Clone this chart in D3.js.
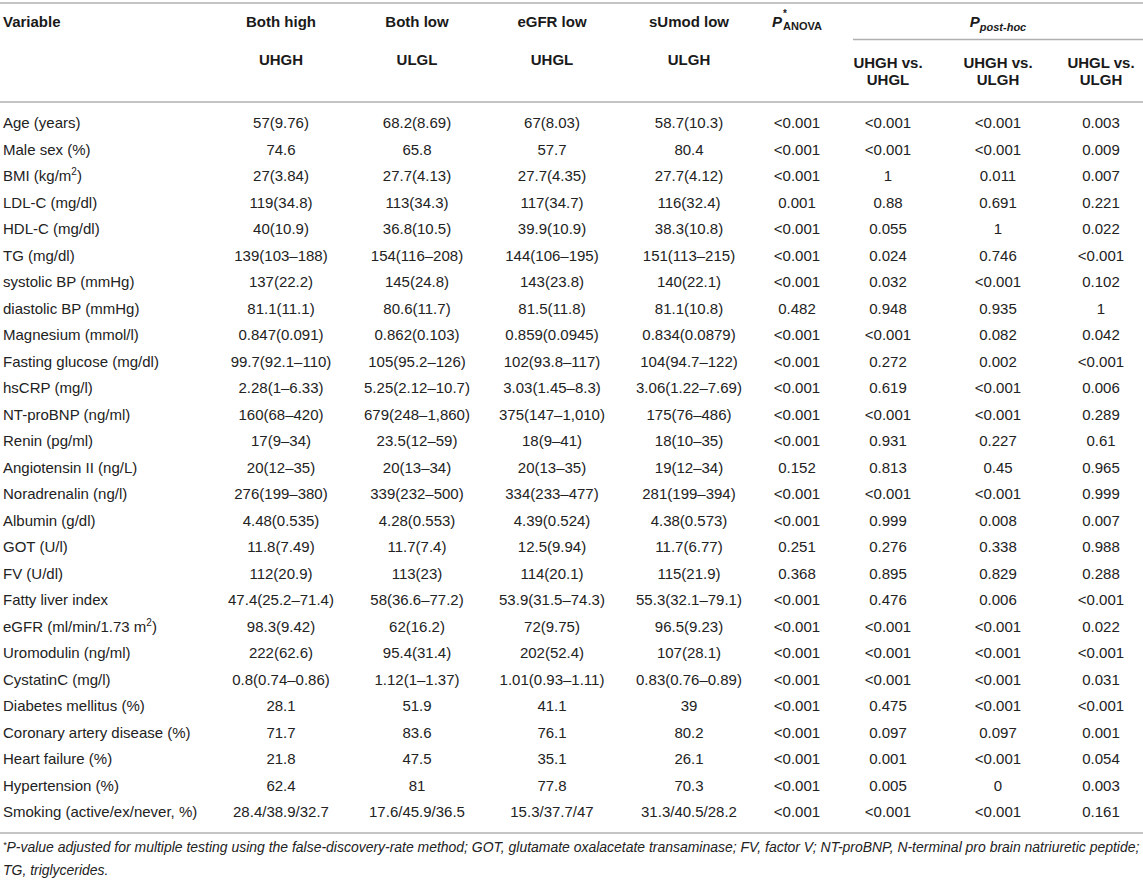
<!DOCTYPE html>
<html>
<head>
<meta charset="utf-8">
<script src="https://cdn.jsdelivr.net/npm/d3@7"></script>
<style>
  html, body { margin: 0; padding: 0; background: #fff; }
  svg { display: block; font-family: "Liberation Sans", Arial, Helvetica, sans-serif; }
</style>
</head>
<body>
<svg id="chart" width="1143" height="880"></svg>
<script>
// ---- data ----
const variables = [
  "Age (years)", "Male sex (%)", "BMI (kg/m^2)", "LDL-C (mg/dl)", "HDL-C (mg/dl)", "TG (mg/dl)",
  "systolic BP (mmHg)", "diastolic BP (mmHg)", "Magnesium (mmol/l)", "Fasting glucose (mg/dl)",
  "hsCRP (mg/l)", "NT-proBNP (ng/ml)", "Renin (pg/ml)", "Angiotensin II (ng/L)", "Noradrenalin (ng/l)",
  "Albumin (g/dl)", "GOT (U/l)", "FV (U/dl)", "Fatty liver index", "eGFR (ml/min/1.73 m^2)",
  "Uromodulin (ng/ml)", "CystatinC (mg/l)", "Diabetes mellitus (%)", "Coronary artery disease (%)",
  "Heart failure (%)", "Hypertension (%)", "Smoking (active/ex/never, %)"
];
const uhgh = ["57(9.76)", "74.6", "27(3.84)", "119(34.8)", "40(10.9)", "139(103–188)", "137(22.2)", "81.1(11.1)",
  "0.847(0.091)", "99.7(92.1–110)", "2.28(1–6.33)", "160(68–420)", "17(9–34)", "20(12–35)", "276(199–380)",
  "4.48(0.535)", "11.8(7.49)", "112(20.9)", "47.4(25.2–71.4)", "98.3(9.42)", "222(62.6)", "0.8(0.74–0.86)",
  "28.1", "71.7", "21.8", "62.4", "28.4/38.9/32.7"];
const ulgl = ["68.2(8.69)", "65.8", "27.7(4.13)", "113(34.3)", "36.8(10.5)", "154(116–208)", "145(24.8)", "80.6(11.7)",
  "0.862(0.103)", "105(95.2–126)", "5.25(2.12–10.7)", "679(248–1,860)", "23.5(12–59)", "20(13–34)", "339(232–500)",
  "4.28(0.553)", "11.7(7.4)", "113(23)", "58(36.6–77.2)", "62(16.2)", "95.4(31.4)", "1.12(1–1.37)",
  "51.9", "83.6", "47.5", "81", "17.6/45.9/36.5"];
const uhgl = ["67(8.03)", "57.7", "27.7(4.35)", "117(34.7)", "39.9(10.9)", "144(106–195)", "143(23.8)", "81.5(11.8)",
  "0.859(0.0945)", "102(93.8–117)", "3.03(1.45–8.3)", "375(147–1,010)", "18(9–41)", "20(13–35)", "334(233–477)",
  "4.39(0.524)", "12.5(9.94)", "114(20.1)", "53.9(31.5–74.3)", "72(9.75)", "202(52.4)", "1.01(0.93–1.11)",
  "41.1", "76.1", "35.1", "77.8", "15.3/37.7/47"];
const ulgh = ["58.7(10.3)", "80.4", "27.7(4.12)", "116(32.4)", "38.3(10.8)", "151(113–215)", "140(22.1)", "81.1(10.8)",
  "0.834(0.0879)", "104(94.7–122)", "3.06(1.22–7.69)", "175(76–486)", "18(10–35)", "19(12–34)", "281(199–394)",
  "4.38(0.573)", "11.7(6.77)", "115(21.9)", "55.3(32.1–79.1)", "96.5(9.23)", "107(28.1)", "0.83(0.76–0.89)",
  "39", "80.2", "26.1", "70.3", "31.3/40.5/28.2"];
const pAnova = ["<0.001", "<0.001", "<0.001", "0.001", "<0.001", "<0.001", "<0.001", "0.482", "<0.001", "<0.001",
  "<0.001", "<0.001", "<0.001", "0.152", "<0.001", "<0.001", "0.251", "0.368", "<0.001", "<0.001", "<0.001",
  "<0.001", "<0.001", "<0.001", "<0.001", "<0.001", "<0.001"];
const pUhghUhgl = ["<0.001", "<0.001", "1", "0.88", "0.055", "0.024", "0.032", "0.948", "<0.001", "0.272",
  "0.619", "<0.001", "0.931", "0.813", "<0.001", "0.999", "0.276", "0.895", "0.476", "<0.001", "<0.001",
  "<0.001", "0.475", "0.097", "0.001", "0.005", "<0.001"];
const pUhghUlgh = ["<0.001", "<0.001", "0.011", "0.691", "1", "0.746", "<0.001", "0.935", "0.082", "0.002",
  "<0.001", "<0.001", "0.227", "0.45", "<0.001", "0.008", "0.338", "0.829", "0.006", "<0.001", "<0.001",
  "<0.001", "<0.001", "0.097", "<0.001", "0", "<0.001"];
const pUhglUlgh = ["0.003", "0.009", "0.007", "0.221", "0.022", "<0.001", "0.102", "1", "0.042", "<0.001",
  "0.006", "0.289", "0.61", "0.965", "0.999", "0.007", "0.988", "0.288", "<0.001", "0.022", "<0.001",
  "0.031", "<0.001", "0.001", "0.054", "0.003", "0.161"];
const groupHeaders = ["Both high", "Both low", "eGFR low", "sUmod low"];
const groupCodes = ["UHGH", "ULGL", "UHGL", "ULGH"];
const postHocHeaders = [["UHGH vs.", "UHGL"], ["UHGH vs.", "ULGH"], ["UHGL vs.", "ULGH"]];
const footnote = [
  "*P-value adjusted for multiple testing using the false-discovery-rate method; GOT, glutamate oxalacetate transaminase; FV, factor V; NT-proBNP, N-terminal pro brain natriuretic peptide;",
  "TG, triglycerides."
];

// ---- layout ----
const W = 1143, H = 880;
const svg = d3.select("#chart");
const textColor = "#222";
const lineColor = "#b0b0b0";
const colKeys = ["uhgh", "ulgl", "uhgl", "ulgh", "pAnova", "p1", "p2", "p3"];
const colX = d3.scaleOrdinal().domain(colKeys).range([281, 417, 552, 689, 797, 888, 998, 1101]);
const columns = [uhgh, ulgl, uhgl, ulgh, pAnova, pUhghUhgl, pUhghUlgh, pUhglUlgh];
const y = d3.scalePoint().domain(d3.range(variables.length)).range([123, 812]);

// rules
function hline(x1, x2, yy) {
  svg.append("line").attr("x1", x1).attr("x2", x2).attr("y1", yy).attr("y2", yy)
    .attr("stroke", lineColor).attr("stroke-width", 1.6);
}
hline(0, W, 3);
hline(0, W, 102);
hline(853, W, 39.5);
hline(0, W, 833);

// header
const hdr = svg.append("g").attr("font-weight", "bold").attr("font-size", 15).attr("fill", "#1a1a1a");
hdr.append("text").attr("x", 3).attr("y", 22).attr("dy", "0.35em").text("Variable");
groupHeaders.forEach((h, i) => {
  hdr.append("text").attr("x", colX(colKeys[i])).attr("y", 22).attr("dy", "0.35em")
    .attr("text-anchor", "middle").text(h);
  hdr.append("text").attr("x", colX(colKeys[i])).attr("y", 60).attr("dy", "0.35em")
    .attr("text-anchor", "middle").text(groupCodes[i]);
});
// P ANOVA
hdr.append("text").attr("x", 772).attr("y", 22).attr("dy", "0.35em").attr("font-style", "italic").text("P");
hdr.append("text").attr("x", 783).attr("y", 17).attr("font-size", 10).text("*");
hdr.append("text").attr("x", 783).attr("y", 30).attr("font-size", 11).text("ANOVA");
// P post-hoc
const ph = hdr.append("text").attr("x", 998).attr("y", 22).attr("dy", "0.35em")
  .attr("text-anchor", "middle").attr("font-style", "italic");
ph.append("tspan").text("P");
ph.append("tspan").attr("font-size", 11).attr("dy", 4).text("post-hoc");
postHocHeaders.forEach((lines, i) => {
  lines.forEach((t, j) => {
    hdr.append("text").attr("x", colX(colKeys[5 + i])).attr("y", 63 + j * 17).attr("dy", "0.35em")
      .attr("text-anchor", "middle").text(t);
  });
});

// body
const body = svg.append("g").attr("font-size", 15).attr("fill", textColor);
variables.forEach((v, i) => {
  const t = body.append("text").attr("x", 3).attr("y", y(i)).attr("dy", "0.35em");
  const parts = v.split("^");
  t.append("tspan").text(parts[0].slice(0, -1) === undefined ? "" : parts[0]);
  if (parts.length > 1) {
    t.append("tspan").attr("font-size", 10).attr("dy", -6).text(parts[1].charAt(0));
    t.append("tspan").attr("dy", 6).text(parts[1].slice(1));
  }
});
columns.forEach((col, c) => {
  body.selectAll(null).data(col).enter().append("text")
    .attr("x", colX(colKeys[c]))
    .attr("y", (d, i) => y(i))
    .attr("dy", "0.35em")
    .attr("text-anchor", "middle")
    .text(d => d);
});

// footnote
const fn = svg.append("g").attr("font-style", "italic").attr("fill", textColor);
const f1 = fn.append("text").attr("x", 3).attr("y", 852).attr("dy", "0.35em").attr("font-size", 14);
f1.append("tspan").attr("font-size", 9).attr("dy", -4).text("*");
f1.append("tspan").attr("dy", 4).text(footnote[0].slice(1));
const len = f1.node().getComputedTextLength();
const fs = 14 * 1137 / len;
f1.attr("font-size", fs);
f1.select("tspan").attr("font-size", fs * 0.65);
fn.append("text").attr("x", 3).attr("y", 870).attr("dy", "0.35em").attr("font-size", fs).text(footnote[1]);
</script>
</body>
</html>
